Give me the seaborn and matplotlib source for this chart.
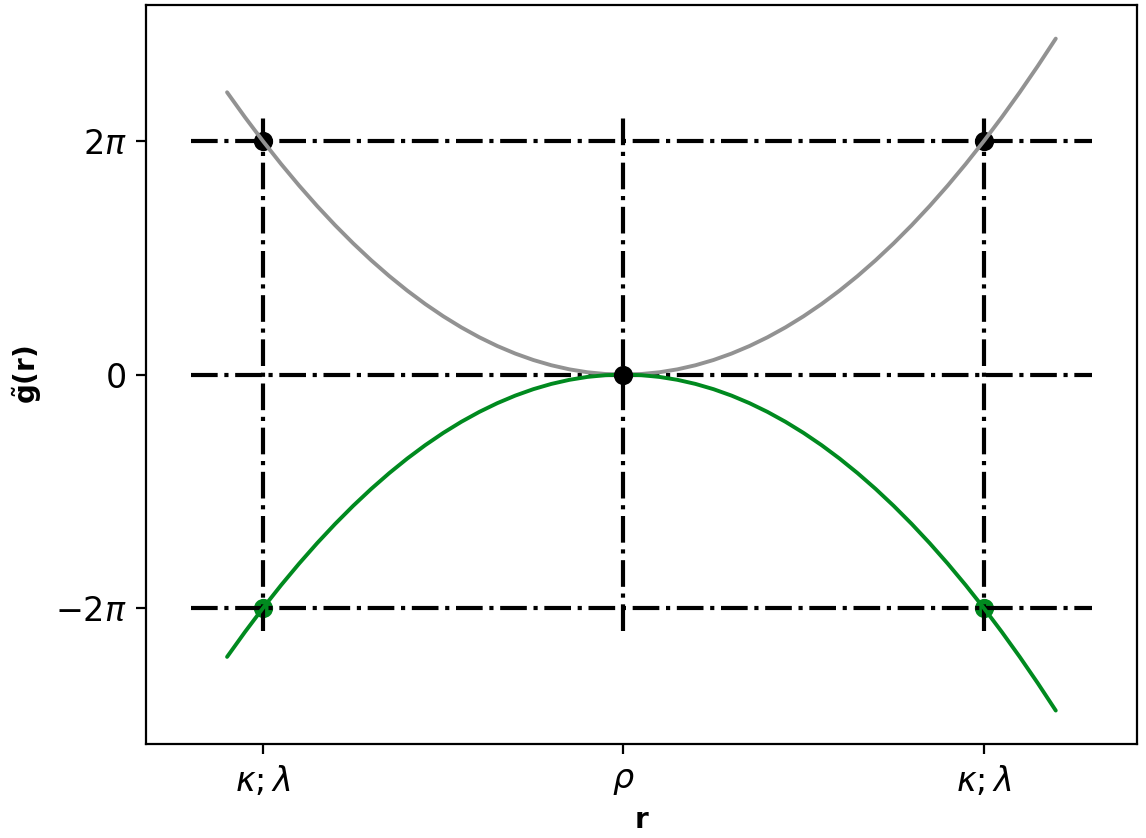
import matplotlib
matplotlib.use("Agg")
import matplotlib.pyplot as plt
import numpy as np
import seaborn as sns

# r positions (rho at 0, kappa;lambda at -1 and +1) and g~(r) in units of pi
R_VALUES = [-1.10, -1.05, -1.00, -0.95, -0.90, -0.85, -0.80, -0.75, -0.70, -0.65, -0.60, -0.55,
            -0.50, -0.45, -0.40, -0.35, -0.30, -0.25, -0.20, -0.15, -0.10, -0.05, 0.00,
            0.05, 0.10, 0.15, 0.20, 0.25, 0.30, 0.35, 0.40, 0.45, 0.50, 0.55, 0.60,
            0.65, 0.70, 0.75, 0.80, 0.85, 0.90, 0.95, 1.00, 1.05, 1.10, 1.15, 1.20]
UPPER_PI = [2.420, 2.205, 2.000, 1.805, 1.620, 1.445, 1.280, 1.125, 0.980, 0.845, 0.720, 0.605,
            0.500, 0.405, 0.320, 0.245, 0.180, 0.125, 0.080, 0.045, 0.020, 0.005, 0.000,
            0.005, 0.020, 0.045, 0.080, 0.125, 0.180, 0.245, 0.320, 0.405, 0.500, 0.605, 0.720,
            0.845, 0.980, 1.125, 1.280, 1.445, 1.620, 1.805, 2.000, 2.205, 2.420, 2.645, 2.880]
LOWER_PI = [-2.420, -2.205, -2.000, -1.805, -1.620, -1.445, -1.280, -1.125, -0.980, -0.845, -0.720, -0.605,
            -0.500, -0.405, -0.320, -0.245, -0.180, -0.125, -0.080, -0.045, -0.020, -0.005, 0.000,
            -0.005, -0.020, -0.045, -0.080, -0.125, -0.180, -0.245, -0.320, -0.405, -0.500, -0.605, -0.720,
            -0.845, -0.980, -1.125, -1.280, -1.445, -1.620, -1.805, -2.000, -2.205, -2.420, -2.645, -2.880]

BLACK_X = [-1.0, 1.0, 0.0]
BLACK_Y_PI = [2.0, 2.0, 0.0]
GREEN_X = [-1.0, 1.0]
GREEN_Y_PI = [-2.0, -2.0]

H_LEVELS_PI = [-2.0, 0.0, 2.0]
H_SPAN = (-1.2, 1.3)
V_LEVELS = [-1.0, 0.0, 1.0]
V_SPAN_PI = (-2.2, 2.2)

X_TICKS = [-1.0, 0.0, 1.0]
X_LABELS = [r"$\kappa;\lambda$", r"$\rho$", r"$\kappa;\lambda$"]
Y_TICKS_PI = [-2.0, 0.0, 2.0]
Y_LABELS = [r"$-2\pi$", "0", r"$2\pi$"]

GREY = "#929292"
GREEN = "#008a1f"

sns.set_style("ticks", {"axes.edgecolor": "black", "xtick.color": "black", "ytick.color": "black",
                        "axes.labelcolor": "black", "text.color": "black"})
plt.rcParams["font.family"] = ["DejaVu Sans"]

fig, ax = plt.subplots(figsize=(5.73, 4.19), dpi=200)
fig.subplots_adjust(left=0.1274, right=0.992, bottom=0.112, top=0.994)

pi = np.pi
sns.lineplot(x=R_VALUES, y=np.array(UPPER_PI) * pi, sort=False, estimator=None,
             color=GREY, linewidth=1.4, ax=ax, zorder=4)
sns.lineplot(x=R_VALUES, y=np.array(LOWER_PI) * pi, sort=False, estimator=None,
             color=GREEN, linewidth=1.4, ax=ax, zorder=4)

ax.hlines(np.array(H_LEVELS_PI) * pi, *H_SPAN, colors="black", linestyles="-.", linewidth=1.5, zorder=3)
ax.vlines(V_LEVELS, V_SPAN_PI[0] * pi, V_SPAN_PI[1] * pi, colors="black", linestyles="-.",
          linewidth=1.5, zorder=3)

sns.scatterplot(x=GREEN_X, y=np.array(GREEN_Y_PI) * pi, color=GREEN, s=48, linewidth=0, ax=ax, zorder=2)
sns.scatterplot(x=BLACK_X[:2], y=np.array(BLACK_Y_PI[:2]) * pi, color="black", s=48, linewidth=0,
                ax=ax, zorder=2)
sns.scatterplot(x=BLACK_X[2:], y=np.array(BLACK_Y_PI[2:]) * pi, color="black", s=48, linewidth=0,
                ax=ax, zorder=5)

ax.set_xticks(X_TICKS)
ax.set_xticklabels(X_LABELS, fontsize=12)
ax.set_yticks(np.array(Y_TICKS_PI) * pi)
ax.set_yticklabels(Y_LABELS, fontsize=12)
ax.set_xlabel("r", fontsize=10, fontweight="bold", labelpad=3)
ax.set_ylabel(r"$\tilde{\mathbf{g}}\mathbf{(r)}$", fontsize=10, labelpad=4)
ax.margins(0.05)

fig.savefig("out.png", dpi=200)
